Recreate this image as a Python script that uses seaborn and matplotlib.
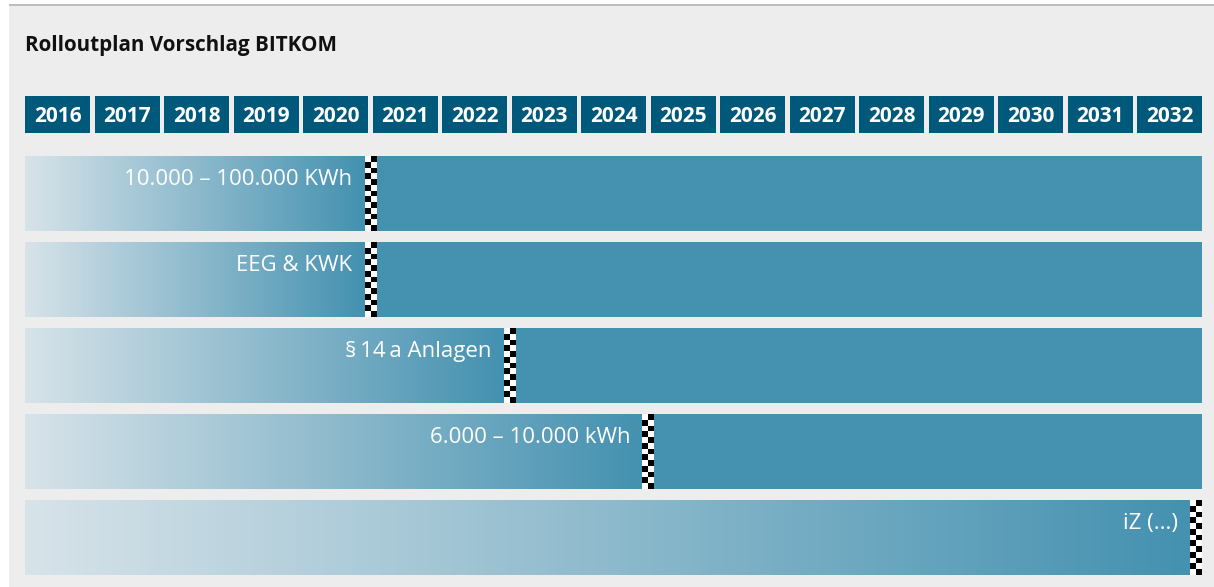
import numpy as np
import matplotlib
matplotlib.use("Agg")
import matplotlib.pyplot as plt
from matplotlib.patches import Rectangle
from matplotlib.colors import LinearSegmentedColormap
import seaborn as sns

# ---- data ----
title = "Rolloutplan Vorschlag BITKOM"
years = list(range(2016, 2033))
groups = ["10.000 – 100.000 KWh", "EEG & KWK", "§\u200914\u2009a Anlagen",
          "6.000 – 10.000 kWh", "iZ (...)"]
flag_years = [2020, 2020, 2022, 2024, 2032]   # rollout completed at end of year

# ---- style ----
sns.set_theme(style="white")
plt.rcParams["font.family"] = ["Open Sans", "DejaVu Sans"]

W, H = 1214, 587
BG = "#ededed"
HEAD = "#00587a"
TEAL = "#4491b0"
LIGHT = "#d7e3e9"

fig = plt.figure(figsize=(W / 100, H / 100), dpi=100)
fig.patch.set_facecolor("white")
fig.patches.append(Rectangle((9 / W, 0), 1 - 9 / W, 1 - 5 / H, transform=fig.transFigure,
                             facecolor=BG, edgecolor="none", zorder=-10))
fig.patches.append(Rectangle((9 / W, 1 - 6 / H), 1 - 9 / W, 2 / H, transform=fig.transFigure,
                             facecolor="#bdbdbd", edgecolor="none", zorder=-9))
fig.text(25 / W, 1 - 51 / H, title, fontsize=14.9, fontweight="bold", color="#111111",
         ha="left", va="baseline")

pitch_px = 69.5           # px per year
gap = 4.5 / pitch_px       # gap between year boxes (in year units)
row_px = 86.0
bar_h = 75 / row_px
head_y = -79 / row_px
head_h = 37 / row_px
x_end = len(years) - gap
y_top = head_y - head_h / 2
y_bot = (len(groups) - 1) + bar_h / 2

ax_left, ax_right = 25, 25 + x_end * pitch_px
ax_top = 96
ax_bottom = ax_top + (y_bot - y_top) * row_px
ax = fig.add_axes([ax_left / W, 1 - ax_bottom / H, (ax_right - ax_left) / W, (ax_bottom - ax_top) / H])
ax.set_facecolor("none")
ax.set_zorder(1)

# full bars (solid part) via seaborn
sns.barplot(x=[x_end] * len(groups), y=groups, orient="h", color=TEAL, saturation=1,
            width=bar_h, ax=ax, zorder=1, linewidth=0, edgecolor="none")

cmap = LinearSegmentedColormap.from_list("grad", [LIGHT, TEAL])
grad = np.linspace(0, 1, 512).reshape(1, -1)
flag_w = 11.5 / pitch_px
n_sq = 13
checker = np.indices((n_sq, 2)).sum(axis=0) % 2
checker = 1 - checker  # top-left black

for i, (lab, fy) in enumerate(zip(groups, flag_years)):
    fx = (fy - years[0] + 1) - gap / 2
    fx = min(fx, x_end - flag_w / 2)
    fl, fr = fx - flag_w / 2, fx + flag_w / 2
    ax.imshow(grad, cmap=cmap, extent=(0, fl, i + bar_h / 2, i - bar_h / 2),
              aspect="auto", interpolation="bilinear", zorder=2)
    ax.imshow(checker, cmap="gray", vmin=0, vmax=1, extent=(fl, fr, i + bar_h / 2, i - bar_h / 2),
              aspect="auto", interpolation="nearest", zorder=3)
    ax.annotate(lab, xy=(fl, i - bar_h / 2), xytext=(-12, -29), textcoords="offset pixels",
                ha="right", va="baseline", color="white", fontsize=16, zorder=4)

# year header boxes
for j, yr in enumerate(years):
    ax.barh(head_y, width=1 - gap, left=j, height=head_h, color=HEAD, align="center",
            linewidth=0, zorder=1)
    ax.text(j + (1 - gap) / 2, head_y, str(yr), ha="center", va="center_baseline",
            color="white", fontsize=15, fontweight="bold", zorder=4)

ax.set_xlim(0, x_end)
ax.set_ylim(y_bot, y_top)
ax.set_aspect("auto")
ax.axis("off")

fig.savefig("out.png", dpi=100, facecolor=fig.get_facecolor())
